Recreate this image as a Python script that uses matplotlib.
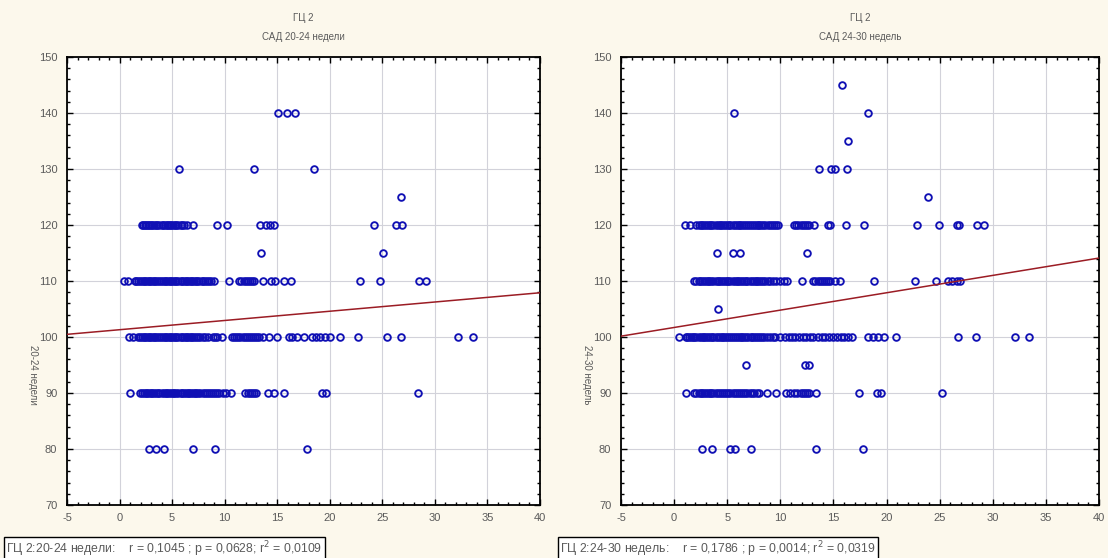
import numpy as np
import matplotlib
matplotlib.use("Agg")
import matplotlib.pyplot as plt
from matplotlib.ticker import MultipleLocator

plt.rcParams["font.family"] = ["Liberation Sans", "DejaVu Sans"]
plt.rcParams["axes.unicode_minus"] = False

# --- left panel: SAD 20-24 weeks, x values per SAD level ---
left_140 = [15.1, 15.9, 16.7]
left_130 = [5.7, 12.8, 18.5]
left_125 = [26.8]
left_120 = [2.1, 2.2, 2.4, 2.5, 2.7, 2.8, 3.0, 3.1, 3.3, 3.5, 3.6, 3.8, 4.0, 4.1,
            4.3, 4.5, 4.6, 4.8, 4.9, 5.1, 5.3, 5.4, 5.6, 5.8, 5.9, 6.1, 6.4,
            7.0, 9.3, 10.2, 13.4, 13.9, 14.3, 14.7, 24.2, 26.3, 26.9]
left_115 = [13.5, 25.1]
left_110 = [0.4, 0.85, 1.5, 1.6, 1.8, 1.9, 2.1, 2.3, 2.4, 2.6, 2.8, 2.9, 3.1, 3.3,
            3.4, 3.6, 3.8, 3.9, 4.1, 4.3, 4.4, 4.6, 4.8, 4.9, 5.1, 5.3, 5.4,
            5.6, 5.8, 5.9, 6.1, 6.3, 6.4, 6.6, 6.8, 6.9, 7.1, 7.3, 7.4, 7.6,
            7.8, 7.9, 8.1, 8.3, 8.5, 8.7, 9.0, 10.4, 11.4, 11.6, 11.8, 12.0,
            12.2, 12.4, 12.6, 12.8, 13.6, 14.4, 14.8, 15.6, 16.3, 22.9, 24.8,
            28.5, 29.2]
left_100 = [0.9, 1.3, 1.8, 1.9, 2.1, 2.3, 2.4, 2.6, 2.8, 2.9, 3.1, 3.3, 3.4, 3.6,
            3.8, 3.9, 4.1, 4.3, 4.4, 4.6, 4.8, 4.9, 5.1, 5.3, 5.4, 5.6, 5.8,
            5.9, 6.1, 6.3, 6.4, 6.6, 6.8, 6.9, 7.1, 7.3, 7.5, 7.7, 7.9, 8.1,
            8.4, 8.9, 9.1, 9.3, 9.7, 10.7, 10.9, 11.1, 11.3, 11.5, 11.7, 11.9,
            12.1, 12.3, 12.5, 12.7, 12.9, 13.1, 13.3, 13.6, 14.2, 15.0, 16.1,
            16.4, 16.9, 17.5, 18.3, 18.7, 19.1, 19.5, 20.0, 21.0, 22.7, 25.4,
            26.8, 32.2, 33.6]
left_90 = [1.0, 1.95, 2.1, 2.3, 2.5, 2.6, 2.8, 3.0, 3.1, 3.3, 3.5, 3.7, 3.8, 4.0,
           4.2, 4.4, 4.5, 4.7, 4.9, 5.1, 5.2, 5.4, 5.6, 5.8, 5.9, 6.1, 6.3,
           6.5, 6.6, 6.8, 7.0, 7.2, 7.3, 7.5, 7.7, 7.9, 8.1, 8.3, 8.5, 8.7,
           8.9, 9.1, 9.3, 9.5, 9.8, 10.1, 10.6, 11.9, 12.2, 12.4, 12.6, 12.8,
           13.0, 14.1, 14.7, 15.6, 19.3, 19.6, 28.4]
left_80 = [2.8, 3.5, 4.2, 7.0, 9.1, 17.8]

# --- right panel: SAD 24-30 weeks ---
right_145 = [15.8]
right_140 = [5.6, 18.3]
right_135 = [16.4]
right_130 = [13.6, 14.8, 15.1, 16.25]
right_125 = [23.9]
right_120 = [1.0, 1.5, 2.1, 2.3, 2.5, 2.6, 2.8, 3.0, 3.2, 3.4, 3.5, 3.7, 3.9, 4.1,
             4.3, 4.4, 4.6, 4.8, 5.0, 5.2, 5.3, 5.5, 5.7, 5.9, 6.1, 6.2, 6.4,
             6.6, 6.8, 7.0, 7.1, 7.3, 7.5, 7.7, 7.9, 8.0, 8.2, 8.4, 8.6, 8.8,
             9.0, 9.2, 9.4, 9.6, 9.8, 11.3, 11.5, 11.7, 11.9, 12.1, 12.3, 12.5,
             12.7, 13.2, 14.5, 14.7, 16.2, 17.9, 22.9, 24.9, 26.6, 26.8, 28.5,
             29.2]
right_115 = [4.0, 5.5, 6.2, 12.5]
right_110 = [1.9, 2.1, 2.3, 2.4, 2.6, 2.8, 3.0, 3.2, 3.3, 3.5, 3.7, 3.9, 4.1, 4.2,
             4.4, 4.6, 4.8, 5.0, 5.1, 5.3, 5.5, 5.7, 5.9, 6.0, 6.2, 6.4, 6.6,
             6.8, 6.9, 7.1, 7.3, 7.5, 7.7, 7.8, 8.0, 8.2, 8.4, 8.6, 8.8, 9.0,
             9.3, 9.6, 10.0, 10.3, 10.6, 12.0, 13.1, 13.3, 13.5, 13.7, 13.9,
             14.1, 14.3, 14.5, 14.7, 15.1, 15.6, 18.8, 22.7, 24.7, 25.8, 26.2,
             26.6, 26.9]
right_105 = [4.1]
right_100 = [0.5, 1.1, 1.25, 1.4, 1.6, 1.8, 1.9, 2.1, 2.3, 2.5, 2.7, 2.8, 3.0,
             3.2, 3.4, 3.6, 3.7, 3.9, 4.1, 4.3, 4.5, 4.6, 4.8, 5.0, 5.2, 5.4,
             5.5, 5.7, 5.9, 6.1, 6.3, 6.4, 6.6, 6.8, 7.0, 7.2, 7.3, 7.5, 7.7,
             7.9, 8.1, 8.3, 8.5, 8.7, 9.0, 9.3, 9.5, 10.0, 10.4, 10.8, 11.1,
             11.4, 11.8, 12.1, 12.4, 12.8, 13.1, 13.5, 13.9, 14.2, 14.6, 15.0,
             15.3, 15.7, 16.0, 16.4, 16.7, 18.3, 18.7, 19.2, 19.8, 20.9, 26.7,
             28.4, 32.1, 33.4]
right_95 = [6.8, 12.3, 12.7]
right_90 = [1.1, 1.9, 2.1, 2.3, 2.5, 2.6, 2.8, 3.0, 3.2, 3.4, 3.5, 3.7, 3.9, 4.1,
            4.3, 4.5, 4.7, 4.9, 5.1, 5.3, 5.5, 5.7, 5.9, 6.1, 6.3, 6.5, 6.7,
            6.9, 7.1, 7.3, 7.5, 7.8, 8.0, 8.75, 9.6, 10.5, 10.9, 11.3, 11.6,
            11.9, 12.1, 12.3, 12.5, 12.7, 13.4, 17.4, 19.1, 19.5, 25.25]
right_80 = [2.6, 3.6, 5.3, 5.7, 7.2, 13.4, 17.75]

left_rows = [(140, left_140), (130, left_130), (125, left_125), (120, left_120),
             (115, left_115), (110, left_110), (100, left_100), (90, left_90),
             (80, left_80)]
right_rows = [(145, right_145), (140, right_140), (135, right_135), (130, right_130),
              (125, right_125), (120, right_120), (115, right_115), (110, right_110),
              (105, right_105), (100, right_100), (95, right_95), (90, right_90),
              (80, right_80)]

# regression lines (intercept, slope)
left_fit = (101.3, 0.165)
right_fit = (101.7, 0.31)

titles = ["САД 20-24 недели", "САД 24-30 недель"]
ylabels = ["20-24 недели", "24-30 недель"]
stats = ["ГЦ 2:20-24 недели:    r = 0,1045 ; p = 0,0628; r$^2$ = 0,0109",
         "ГЦ 2:24-30 недель:    r = 0,1786 ; p = 0,0014; r$^2$ = 0,0319"]

W, H = 1108, 558
fig = plt.figure(figsize=(W / 100, H / 100), dpi=100)
fig.patch.set_facecolor("#fcf8ec")

boxes = [(67, 540), (621, 1099)]
top, bottom = 57, 505
gray = "#5a5a5a"

for i, (rows, fit) in enumerate([(left_rows, left_fit), (right_rows, right_fit)]):
    x0, x1 = boxes[i]
    ax = fig.add_axes([x0 / W, 1 - bottom / H, (x1 - x0) / W, (bottom - top) / H])
    ax.set_facecolor("white")

    xs = np.concatenate([np.array(v, float) for _, v in rows])
    ys = np.concatenate([np.full(len(v), yv, float) for yv, v in rows])
    ax.plot(xs, ys, "o", mfc="none", mec="#1010b4", ms=4.8, mew=1.35, zorder=3)

    lx = np.array([-5, 40])
    ax.plot(lx, fit[0] + fit[1] * lx, color="#9b1c24", lw=1.1, zorder=4)

    ax.set_xlim(-5, 40)
    ax.set_ylim(70, 150)
    ax.xaxis.set_major_locator(MultipleLocator(5))
    ax.xaxis.set_minor_locator(MultipleLocator(1))
    ax.yaxis.set_major_locator(MultipleLocator(10))
    ax.yaxis.set_minor_locator(MultipleLocator(2))
    ax.grid(True, which="major", color="#d2d2da", lw=0.8, zorder=0)
    ax.tick_params(which="both", direction="in", top=True, right=True,
                   color="black", labelsize=8, labelcolor=gray)
    ax.tick_params(which="major", length=4, width=1)
    ax.tick_params(which="minor", length=2.5, width=1)
    ax.tick_params(axis="x", pad=6)
    ax.tick_params(axis="y", pad=7)
    for s in ax.spines.values():
        s.set_linewidth(1.3)
        s.set_color("black")

    cx = (x0 + x1) / 2 / W
    fig.text(cx, 1 - 18 / H, "ГЦ 2", ha="center", va="center", fontsize=7, color=gray)
    fig.text(cx, 1 - 37 / H, titles[i], ha="center", va="center", fontsize=7, color=gray)
    fig.text((x0 - 34) / W, 1 - 375 / H, ylabels[i], rotation=270,
             ha="center", va="center", fontsize=7, color=gray)
    fig.text((x0 - 61) / W, 1 - 549 / H, stats[i], ha="left", va="center",
             fontsize=8.8, color=gray,
             bbox=dict(boxstyle="square,pad=0.2", fc="white", ec="black", lw=1))

fig.savefig("out.png", dpi=100, facecolor=fig.get_facecolor())
